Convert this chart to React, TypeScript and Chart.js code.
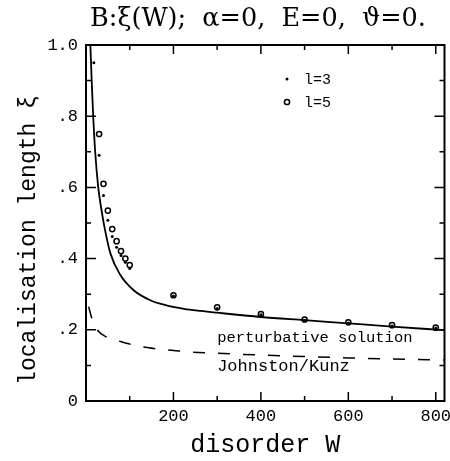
import React, { useEffect, useRef } from 'react';
import { Chart, registerables } from 'chart.js';

Chart.register(...registerables);

// ---- data ----
const W_L3 = [18, 30, 40, 50, 60, 70, 80, 90, 100, 200, 300, 400, 500, 600, 700, 800];
const XI_L3 = [0.95, 0.69, 0.577, 0.508, 0.462, 0.432, 0.409, 0.39, 0.372, 0.295, 0.26, 0.242, 0.227, 0.219, 0.211, 0.205];

const W_L5 = [30, 40, 50, 60, 70, 80, 90, 100, 200, 300, 400, 500, 600, 700, 800];
const XI_L5 = [0.75, 0.61, 0.535, 0.483, 0.449, 0.421, 0.4, 0.382, 0.297, 0.263, 0.244, 0.229, 0.221, 0.213, 0.206];

const W_PERT = [10, 13, 16.5, 21, 28, 35, 42, 56, 79, 109, 147, 186, 224, 262, 300, 400, 500, 600, 700, 820];
const XI_PERT = [1.0, 0.9, 0.8, 0.7, 0.6, 0.54, 0.49, 0.414, 0.353, 0.311, 0.283, 0.268, 0.259, 0.253, 0.248, 0.236, 0.227, 0.218, 0.209, 0.199];

const W_JK = [6, 13.5, 25.6, 48, 79, 109, 140, 170, 200, 231, 300, 400, 500, 600, 700, 820];
const XI_JK = [0.265, 0.232, 0.2, 0.179, 0.167, 0.157, 0.15, 0.145, 0.142, 0.138, 0.134, 0.129, 0.125, 0.121, 0.118, 0.115];

const SERIES_LABELS = ['l=3', 'l=5'];
const CURVE_LABELS = ['perturbative solution', 'Johnston/Kunz'];
const TITLE = 'B:ξ(W);  α=0,  E=0,  ϑ=0.';
const X_TITLE = 'disorder W';
const Y_TITLE = 'localisation length ξ';
const X_MIN = 0;
const X_MAX = 820;
const Y_MIN = 0;
const Y_MAX = 1;

const pts = (xs: number[], ys: number[]) => xs.map((x, i) => ({ x, y: ys[i] }));

const MONO = 'Liberation Mono';

const framePlugin = {
  id: 'frame',
  afterDraw(chart: any) {
    const { ctx, chartArea: a, scales } = chart;
    const xs = scales.x;
    const ys = scales.y;
    ctx.save();
    ctx.strokeStyle = '#000';
    ctx.lineWidth = 2;
    ctx.strokeRect(a.left, a.top, a.right - a.left, a.bottom - a.top);
    ctx.lineWidth = 1.5;
    ctx.beginPath();
    xs.ticks.forEach((t: any) => {
      const v = t.value;
      if (v <= X_MIN || v >= X_MAX) return;
      const p = xs.getPixelForValue(v);
      const len = Math.round(v) % 200 === 0 ? 9 : 5;
      ctx.moveTo(p, a.bottom);
      ctx.lineTo(p, a.bottom - len);
      ctx.moveTo(p, a.top);
      ctx.lineTo(p, a.top + len);
    });
    ys.ticks.forEach((t: any) => {
      const v = t.value;
      if (v <= Y_MIN || v >= Y_MAX) return;
      const p = ys.getPixelForValue(v);
      const len = Math.round(v * 10) % 2 === 0 ? 10 : 5;
      ctx.moveTo(a.left, p);
      ctx.lineTo(a.left + len, p);
      ctx.moveTo(a.right, p);
      ctx.lineTo(a.right - len, p);
    });
    ctx.stroke();

    ctx.fillStyle = '#000';

    // title
    ctx.font = '25.5px "DejaVu Serif", "Liberation Serif", serif';
    ctx.textAlign = 'center';
    ctx.textBaseline = 'middle';
    ctx.fillText(TITLE, 258, 19);

    // y axis title
    ctx.save();
    ctx.translate(29, 240);
    ctx.rotate(-Math.PI / 2);
    ctx.font = `23px "${MONO}", monospace`;
    ctx.fillText(Y_TITLE, 0, 0);
    ctx.restore();

    // legend
    const lx = 287;
    ctx.beginPath();
    ctx.arc(lx, 79, 1.5, 0, Math.PI * 2);
    ctx.fill();
    ctx.beginPath();
    ctx.lineWidth = 1.5;
    ctx.arc(lx, 102, 2.6, 0, Math.PI * 2);
    ctx.stroke();
    ctx.font = `15px "${MONO}", monospace`;
    ctx.textAlign = 'left';
    ctx.fillText(SERIES_LABELS[0], 304, 80);
    ctx.fillText(SERIES_LABELS[1], 304, 103);

    // curve labels
    ctx.font = `15.5px "${MONO}", monospace`;
    ctx.fillText(CURVE_LABELS[0], xs.getPixelForValue(300), ys.getPixelForValue(0.178));
    ctx.font = `17px "${MONO}", monospace`;
    ctx.fillText(CURVE_LABELS[1], xs.getPixelForValue(300), ys.getPixelForValue(0.096));
    ctx.restore();
  },
};

export default function App() {
  const ref = useRef<HTMLCanvasElement | null>(null);
  useEffect(() => {
    if (!ref.current) return;
    const tickFont = { family: MONO, size: 17 };
    const chart = new Chart(ref.current, {
      type: 'scatter',
      data: {
        datasets: [
          {
            label: CURVE_LABELS[0],
            data: pts(W_PERT, XI_PERT),
            showLine: true,
            borderColor: '#000',
            borderWidth: 1.8,
            pointRadius: 0,
            cubicInterpolationMode: 'monotone',
          } as any,
          {
            label: CURVE_LABELS[1],
            data: pts(W_JK, XI_JK),
            showLine: true,
            borderColor: '#000',
            borderWidth: 1.5,
            borderDash: [12, 13],
            pointRadius: 0,
            cubicInterpolationMode: 'monotone',
          } as any,
          {
            label: SERIES_LABELS[1],
            data: pts(W_L5, XI_L5),
            showLine: false,
            pointRadius: 2.6,
            pointBorderWidth: 1.5,
            borderColor: '#000',
            backgroundColor: 'rgba(255,255,255,0)',
          },
          {
            label: SERIES_LABELS[0],
            data: pts(W_L3, XI_L3),
            showLine: false,
            pointRadius: 1.5,
            pointBorderWidth: 0,
            borderColor: '#000',
            backgroundColor: '#000',
          },
        ],
      },
      options: {
        animation: false,
        responsive: false,
        layout: { padding: { left: 0, right: 5.5, top: 45, bottom: 0 } },
        plugins: {
          legend: { display: false },
          tooltip: { enabled: false },
          title: { display: false },
        },
        scales: {
          x: {
            type: 'linear',
            min: X_MIN,
            max: X_MAX,
            grid: { display: false, drawTicks: false },
            border: { display: false },
            ticks: {
              stepSize: 100,
              includeBounds: false,
              autoSkip: false,
              maxRotation: 0,
              padding: 5,
              color: '#000',
              font: tickFont,
              callback: (v: any) => {
                const n = Math.round(Number(v));
                return n > 0 && n % 200 === 0 ? String(n) : '';
              },
            },
            title: {
              display: true,
              text: X_TITLE,
              color: '#000',
              font: { family: MONO, size: 25 },
              padding: { top: 0, bottom: 1 },
            },
            afterFit: (s: any) => {
              s.paddingLeft = 0;
              s.paddingRight = 0;
              s.height = 60;
            },
          },
          y: {
            type: 'linear',
            min: Y_MIN,
            max: Y_MAX,
            grid: { display: false, drawTicks: false },
            border: { display: false },
            ticks: {
              stepSize: 0.1,
              autoSkip: false,
              padding: 8,
              color: '#000',
              font: tickFont,
              callback: (v: any) => {
                const n = Math.round(Number(v) * 10);
                if (n === 10) return '1.0';
                if (n === 0) return '0';
                return n % 2 === 0 ? '.' + n : '';
              },
            },
            title: { display: false },
            afterFit: (s: any) => {
              s.paddingTop = 0;
              s.paddingBottom = 0;
              s.width = 86;
            },
          },
        },
      },
      plugins: [framePlugin],
    });
    return () => chart.destroy();
  }, []);
  return (
    <div style={{ position: 'fixed', left: 0, top: 0, width: 450, height: 461, background: '#fff' }}>
      <canvas ref={ref} width={450} height={461} />
    </div>
  );
}
